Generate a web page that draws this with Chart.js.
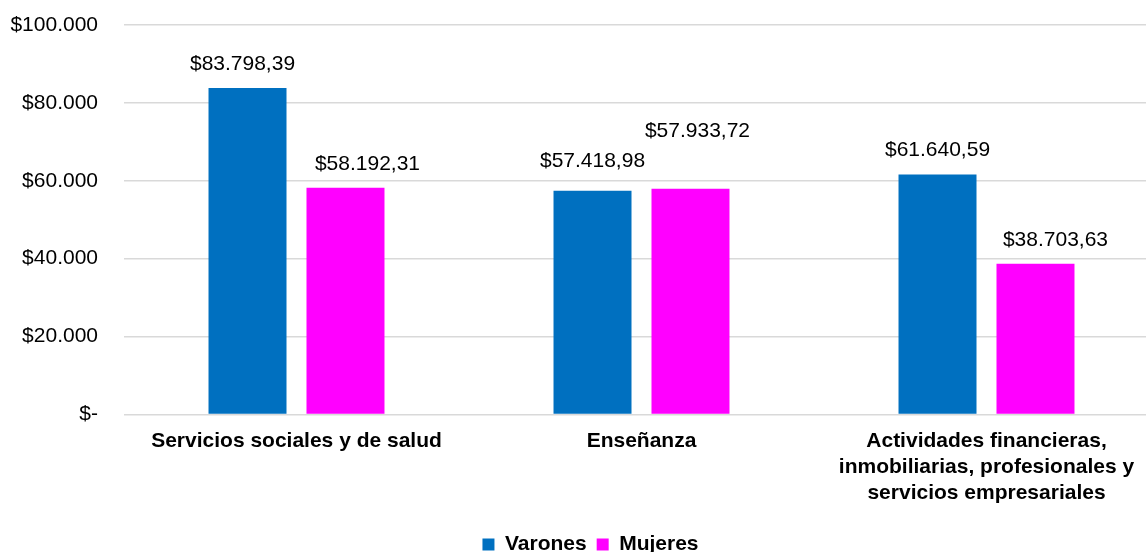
<!DOCTYPE html>
<html>
<head>
<meta charset="utf-8">
<script src="https://cdn.jsdelivr.net/npm/chart.js@4"></script>
<style>
  html, body { margin: 0; padding: 0; background: #fff; overflow: hidden; width: 1146px; height: 552px; }
  #wrap { width: 1180px; height: 565px; }
</style>
</head>
<body>
<div id="wrap"><canvas id="c" width="1180" height="565"></canvas></div>
<script>
const categories = [
  "Servicios sociales y de salud",
  "Enseñanza",
  ["Actividades financieras,", "inmobiliarias, profesionales y", "servicios empresariales"]
];
const seriesNames = ["Varones", "Mujeres"];
const varones = [83798.39, 57418.98, 61640.59];
const mujeres = [58192.31, 57933.72, 38703.63];
const yTicks = [0, 20000, 40000, 60000, 80000, 100000];

function thousands(n) {
  return String(Math.round(n)).replace(/\B(?=(\d{3})+(?!\d))/g, ".");
}
function money(v) {
  const parts = v.toFixed(2).split(".");
  return "$" + thousands(Number(parts[0])) + "," + parts[1];
}

const FONT = "'Liberation Sans', Arial, Helvetica, sans-serif";

// label nudges (dataset index -> per category [dx, dy])
const labelNudge = [
  [[-5, 0], [0, -6], [0, 0]],
  [[22, 0], [7, -34], [20, 0]]
];

const valueLabels = {
  id: "valueLabels",
  afterDatasetsDraw(chart) {
    const ctx = chart.ctx;
    ctx.save();
    ctx.font = "21px " + FONT;
    ctx.fillStyle = "#000";
    ctx.textAlign = "center";
    ctx.textBaseline = "middle";
    chart.data.datasets.forEach((ds, di) => {
      const meta = chart.getDatasetMeta(di);
      meta.data.forEach((bar, i) => {
        const n = labelNudge[di][i];
        ctx.fillText(money(ds.data[i]), bar.x + n[0], bar.y - 24 + n[1]);
      });
    });
    ctx.restore();
  }
};

const legendShift = {
  id: "legendShift",
  afterLayout(chart) {
    const l = chart.legend;
    if (l) { l.left += 11; l.right += 11; }
  }
};

new Chart(document.getElementById("c"), {
  type: "bar",
  data: {
    labels: categories,
    datasets: [
      { label: seriesNames[0], data: varones, backgroundColor: "#0070C0" },
      { label: seriesNames[1], data: mujeres, backgroundColor: "#FF00FF" }
    ]
  },
  options: {
    responsive: false,
    animation: false,
    devicePixelRatio: 1,
    layout: { padding: { left: 0, right: 21, top: 0, bottom: 0 } },
    datasets: { bar: { categoryPercentage: 0.568, barPercentage: 0.796 } },
    scales: {
      x: {
        grid: { display: false, drawTicks: false },
        border: { display: false },
        ticks: {
          color: "#000",
          font: { family: FONT, size: 21, weight: "bold", lineHeight: 1.24 },
          padding: 14,
          maxRotation: 0,
          minRotation: 0,
          autoSkip: false
        },
        afterFit(scale) { scale.height = 109.5; }
      },
      y: {
        min: 0,
        max: 100000,
        afterBuildTicks(scale) { scale.ticks = yTicks.map(v => ({ value: v })); },
        grid: { color: "#d9d9d9", lineWidth: 1.5, drawTicks: false },
        border: { display: false },
        ticks: {
          color: "#000",
          font: { family: FONT, size: 21 },
          padding: 26,
          callback: v => v === 0 ? "$-" : "$" + thousands(v)
        },
        afterFit(scale) {
          scale.width = 124;
          scale.paddingTop = 25;
          scale.paddingBottom = 0;
        }
      }
    },
    plugins: {
      legend: {
        position: "bottom",
        labels: {
          color: "#000",
          font: { family: FONT, size: 21, weight: "bold" },
          boxWidth: 12,
          boxHeight: 12,
          padding: 10
        }
      },
      tooltip: { enabled: false }
    }
  },
  plugins: [valueLabels, legendShift]
});
</script>
</body>
</html>
